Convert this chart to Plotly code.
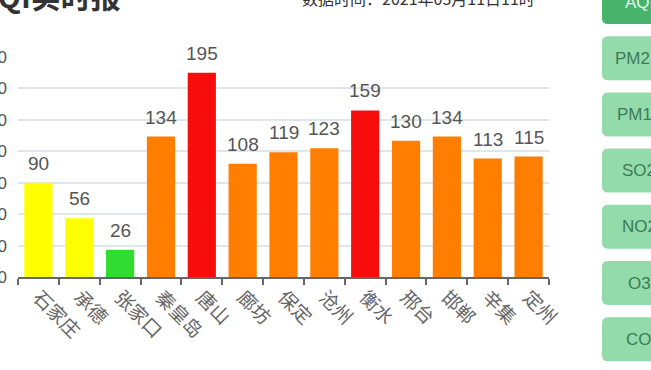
import plotly.graph_objects as go

cities = ["石家庄", "承德", "张家口", "秦皇岛", "唐山", "廊坊", "保定", "沧州", "衡水", "邢台", "邯郸", "辛集", "定州"]
aqi = [90, 56, 26, 134, 195, 108, 119, 123, 159, 130, 134, 113, 115]
y_ticks = [0, 30, 60, 90, 120, 150, 180, 210]
buttons = ["AQI", "PM2.5", "PM10", "SO2", "NO2", "O3", "CO"]
title_text = "AQI实时报"
time_text = "数据时间：2021年03月11日11时"


def aqi_color(v):
    if v <= 50:
        return "#30dc30"
    if v <= 100:
        return "#ffff00"
    if v <= 150:
        return "#ff7e00"
    if v <= 200:
        return "#f80d0d"
    return "#99004c"


W, H = 651, 370
L, R, T, B = 18, 549, 57, 277


def px2x(px):
    return (px - L) / (R - L)


def py2y(py):
    return (B - py) / (B - T)


fig = go.Figure()
fig.add_trace(go.Bar(
    x=cities, y=aqi,
    marker=dict(color=[aqi_color(v) for v in aqi], line=dict(width=0)),
    hoverinfo="skip",
))

annotations = []
for c, v in zip(cities, aqi):
    annotations.append(dict(
        x=c, y=v, xref="x", yref="y", text=str(v), showarrow=False,
        yanchor="bottom", yshift=7,
        font=dict(size=19, color="#555555", family="Liberation Sans, Arial, sans-serif"),
    ))

# title and time (partially outside the visible window, as in the reference crop)
annotations.append(dict(
    x=px2x(-24), y=py2y(19), xref="paper", yref="paper", text="<b>" + title_text + "</b>",
    showarrow=False, xanchor="left", yanchor="bottom",
    font=dict(size=30, color="#333333", family="Noto Sans CJK SC, sans-serif"),
))
annotations.append(dict(
    x=px2x(300), y=py2y(12), xref="paper", yref="paper", text=time_text,
    showarrow=False, xanchor="left", yanchor="bottom",
    font=dict(size=16, color="#333333", family="Noto Sans CJK SC, sans-serif"),
))

shapes = []
bx0, bx1, rad = 602, 700, 6
for i, name in enumerate(buttons):
    top = -20 + i * 56.2
    bot = top + 44
    fill = "#46b46b" if i == 0 else "#93dbab"
    tcol = "#e8f7ec" if i == 0 else "#3c7c57"
    pts = [
        ("M", bx0 + rad, top), ("L", bx1 - rad, top), ("Q", bx1, top, bx1, top + rad),
        ("L", bx1, bot - rad), ("Q", bx1, bot, bx1 - rad, bot),
        ("L", bx0 + rad, bot), ("Q", bx0, bot, bx0, bot - rad),
        ("L", bx0, top + rad), ("Q", bx0, top, bx0 + rad, top),
    ]
    path = ""
    for p in pts:
        if p[0] == "Q":
            path += "Q%.5f,%.5f %.5f,%.5f " % (px2x(p[1]), py2y(p[2]), px2x(p[3]), py2y(p[4]))
        else:
            path += "%s%.5f,%.5f " % (p[0], px2x(p[1]), py2y(p[2]))
    path += "Z"
    shapes.append(dict(type="path", path=path, xref="paper", yref="paper",
                       fillcolor=fill, line=dict(width=0), layer="above"))
    annotations.append(dict(
        x=px2x(639), y=py2y((top + bot) / 2), xref="paper", yref="paper", text=name,
        showarrow=False, xanchor="center", yanchor="middle",
        font=dict(size=17, color=tcol, family="Liberation Sans, Arial, sans-serif"),
    ))

fig.update_layout(
    width=W, height=H,
    margin=dict(l=L, r=W - R, t=T, b=H - B, autoexpand=False),
    paper_bgcolor="white", plot_bgcolor="white",
    bargap=0.31,
    showlegend=False,
    annotations=annotations,
    shapes=shapes,
    xaxis=dict(
        type="category", automargin=False,
        showline=True, linecolor="#666666", linewidth=1.5,
        ticks="outside", tickson="boundaries", ticklen=6, tickcolor="#666666", tickwidth=1.5,
        tickangle=45,
        tickfont=dict(size=19, color="#666666", family="Noto Sans CJK SC, sans-serif"),
        showgrid=False,
    ),
    yaxis=dict(
        range=[0, 210], automargin=False,
        tickvals=y_ticks,
        showgrid=True, gridcolor="#dde8ee", gridwidth=1.5,
        zeroline=False, showline=False,
        ticks="",
        ticklabelstandoff=10,
        tickfont=dict(size=17, color="#555555", family="Liberation Sans, Arial, sans-serif"),
    ),
)

fig.write_html(
    "out.html",
    config={"displayModeBar": False},
    post_script="document.body.style.margin='0';document.body.style.overflow='hidden';",
)
